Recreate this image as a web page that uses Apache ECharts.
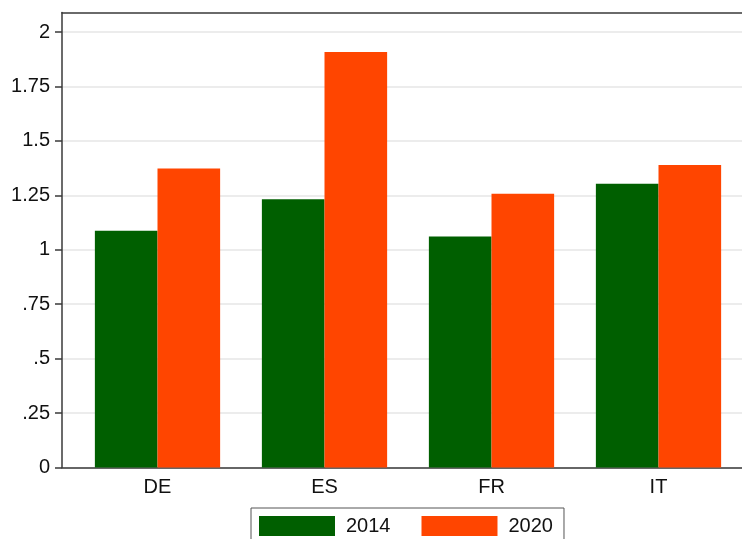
<!DOCTYPE html>
<html>
<head>
<meta charset="utf-8">
<script src="https://cdn.jsdelivr.net/npm/echarts@6/dist/echarts.min.js"></script>
<style>
  html, body { margin: 0; padding: 0; background: #fff; }
  #chart { width: 742px; height: 539px; }
</style>
</head>
<body>
<div id="chart"></div>
<script>
// Country codes along the x axis
const countries = ['DE', 'ES', 'FR', 'IT'];
// Values for each year
const values2014 = [1.087, 1.232, 1.061, 1.303];
const values2020 = [1.373, 1.908, 1.257, 1.389];
// Y axis ticks and their printed labels
const yTicks = [0, 0.25, 0.5, 0.75, 1, 1.25, 1.5, 1.75, 2];
const yTickLabels = ['0', '.25', '.5', '.75', '1', '1.25', '1.5', '1.75', '2'];
const yMax = 2.0896;

const FONT = 'Liberation Sans, Arial, Helvetica, sans-serif';
const GREEN = '#005f00';
const ORANGE = '#ff4500';
const AXIS = '#3a3a3a';

const chart = echarts.init(document.getElementById('chart'), null, { renderer: 'canvas' });

const labelOf = v => {
  const i = yTicks.findIndex(t => Math.abs(t - v) < 1e-6);
  return i >= 0 ? yTickLabels[i] : '';
};

chart.setOption({
  animation: false,
  backgroundColor: '#fff',
  textStyle: { fontFamily: FONT },
  grid: [
    // frame: axes, gridlines and top border
    { left: 62, top: 12.5, width: 700, height: 455, containLabel: false },
    // bars
    { left: 74, top: 12.5, width: 668, height: 455, containLabel: false }
  ],
  xAxis: [
    {
      gridIndex: 0, type: 'value', min: 0, max: 1, position: 'bottom',
      axisLine: { show: true, lineStyle: { color: AXIS, width: 1.5 } },
      axisTick: { show: false }, axisLabel: { show: false }, splitLine: { show: false }
    },
    {
      gridIndex: 0, type: 'value', min: 0, max: 1, position: 'top',
      axisLine: { show: true, onZero: false, lineStyle: { color: AXIS, width: 1.5 } },
      axisTick: { show: false }, axisLabel: { show: false }, splitLine: { show: false }
    },
    {
      gridIndex: 1, type: 'category', data: countries,
      axisLine: { show: false }, axisTick: { show: false },
      axisLabel: { color: '#111', fontSize: 20, fontFamily: FONT, margin: 10 }
    }
  ],
  yAxis: [
    {
      gridIndex: 0, type: 'value', min: 0, max: yMax, interval: 0.25,
      axisLine: { show: true, lineStyle: { color: AXIS, width: 1.5 } },
      axisTick: { show: true, length: 7, customValues: yTicks, lineStyle: { color: AXIS, width: 1.5 } },
      axisLabel: {
        customValues: yTicks, formatter: labelOf,
        color: '#111', fontSize: 20, fontFamily: FONT, margin: 12
      },
      splitLine: { show: true, lineStyle: { color: '#e6e6e6', width: 1.5 } }
    },
    {
      gridIndex: 1, type: 'value', min: 0, max: yMax,
      axisLine: { show: false }, axisTick: { show: false },
      axisLabel: { show: false }, splitLine: { show: false }
    }
  ],
  legend: {
    left: 251, top: 508,
    padding: [8, 11, 8, 8],
    borderColor: '#555', borderWidth: 1,
    itemWidth: 76, itemHeight: 20, itemGap: 31,
    icon: 'rect',
    textStyle: { color: '#111', fontSize: 20, fontFamily: FONT, padding: [0, 0, 0, 6] },
    data: ['2014', '2020']
  },
  series: [
    {
      name: '2014', type: 'bar', xAxisIndex: 2, yAxisIndex: 1,
      data: values2014, barGap: '0%', barCategoryGap: '25%',
      itemStyle: { color: GREEN }
    },
    {
      name: '2020', type: 'bar', xAxisIndex: 2, yAxisIndex: 1,
      data: values2020, barGap: '0%', barCategoryGap: '25%',
      itemStyle: { color: ORANGE }
    }
  ]
});
</script>
</body>
</html>
